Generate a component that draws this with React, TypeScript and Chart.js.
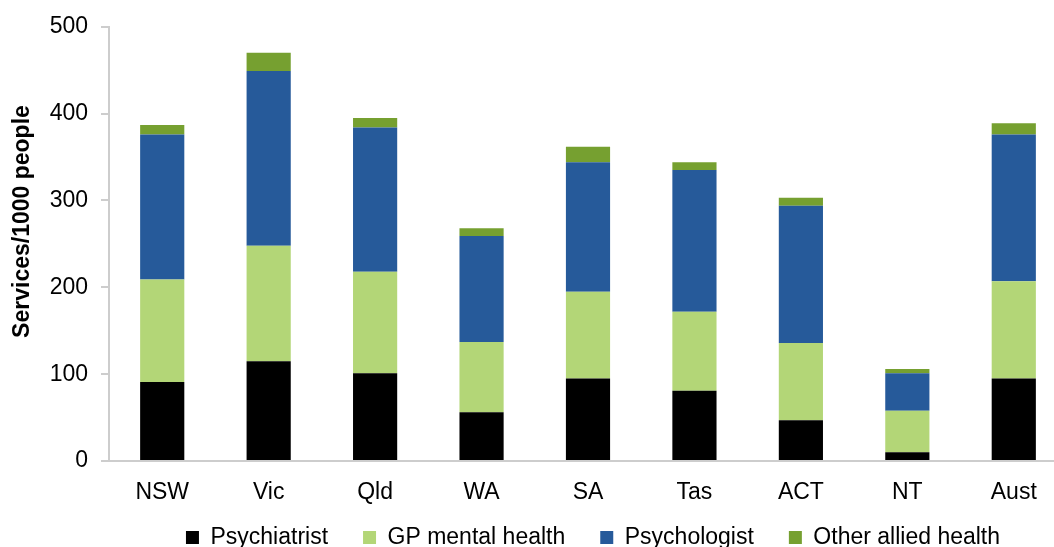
import React, { useEffect, useRef } from "react";
import { Chart, registerables } from "chart.js";

Chart.register(...registerables);

const categories = ["NSW", "Vic", "Qld", "WA", "SA", "Tas", "ACT", "NT", "Aust"];
const psychiatrist = [91, 115, 101, 56, 95, 81, 47, 10, 95];
const gpMentalHealth = [118, 133, 117, 81, 100, 91, 89, 48, 112];
const psychologist = [167, 201, 166, 122, 149, 163, 158, 43, 169];
const otherAllied = [11, 21, 11, 9, 18, 9, 9, 5, 13];
const seriesNames = ["Psychiatrist", "GP mental health", "Psychologist", "Other allied health"];
const yTitle = "Services/1000 people";

const FONT = "'Liberation Sans', Arial, Helvetica, sans-serif";

// nudges the legend box so it sits closer to the axis labels, as in the original
const legendNudge = {
  id: "legendNudge",
  afterLayout(chart: any) {
    const lg = chart.legend;
    if (!lg) return;
    const dy = -16;
    const dx = 5;
    lg.top += dy;
    lg.bottom += dy;
    lg.left += dx;
    lg.right += dx;
  },
};

export default function App() {
  const ref = useRef<HTMLCanvasElement | null>(null);

  useEffect(() => {
    if (!ref.current) return;
    Chart.defaults.font.family = FONT;
    Chart.defaults.color = "#000";
    const colors = ["#000000", "#B3D677", "#265A9A", "#76A030"];
    const values = [psychiatrist, gpMentalHealth, psychologist, otherAllied];
    const chart = new Chart(ref.current, {
      type: "bar",
      data: {
        labels: categories,
        datasets: seriesNames.map((name, i) => ({
          label: name,
          data: values[i],
          backgroundColor: colors[i],
          borderWidth: 0,
          barPercentage: 0.415,
          categoryPercentage: 1,
        })),
      },
      plugins: [legendNudge],
      options: {
        responsive: false,
        animation: false,
        layout: { padding: { top: 25, left: 0, right: 0, bottom: 0 } },
        plugins: {
          tooltip: { enabled: false },
          legend: {
            position: "bottom",
            fullSize: false,
            labels: {
              boxWidth: 13,
              boxHeight: 13,
              padding: 35,
              color: "#000",
              font: { size: 23, family: FONT },
            },
          },
        },
        scales: {
          x: {
            stacked: true,
            grid: { display: false, drawTicks: false },
            border: { display: true, color: "#CDCDCD", width: 2 },
            ticks: { padding: 18, color: "#000", font: { size: 23, family: FONT } },
            afterFit: (s: any) => {
              s.height = 46;
            },
          },
          y: {
            stacked: true,
            min: 0,
            max: 500,
            ticks: { stepSize: 100, padding: 13, color: "#000", font: { size: 23, family: FONT } },
            grid: { display: true, drawOnChartArea: false, drawTicks: true, tickLength: 8, color: "#CDCDCD", lineWidth: 2 },
            border: { display: true, color: "#CDCDCD", width: 2 },
            title: {
              display: true,
              text: "\u00A0\u00A0\u00A0\u00A0\u00A0\u00A0\u00A0" + yTitle,
              color: "#000",
              font: { size: 23, weight: "bold", family: FONT },
              padding: { top: 9, bottom: 0 },
            },
            afterFit: (s: any) => {
              s.width = 109;
            },
          },
        },
      },
    });
    return () => chart.destroy();
  }, []);

  return (
    <div style={{ position: "fixed", left: 0, top: 0, width: 1054, height: 547, overflow: "hidden", background: "#fff" }}>
      <canvas ref={ref} width={1067} height={575} style={{ display: "block" }} />
    </div>
  );
}
